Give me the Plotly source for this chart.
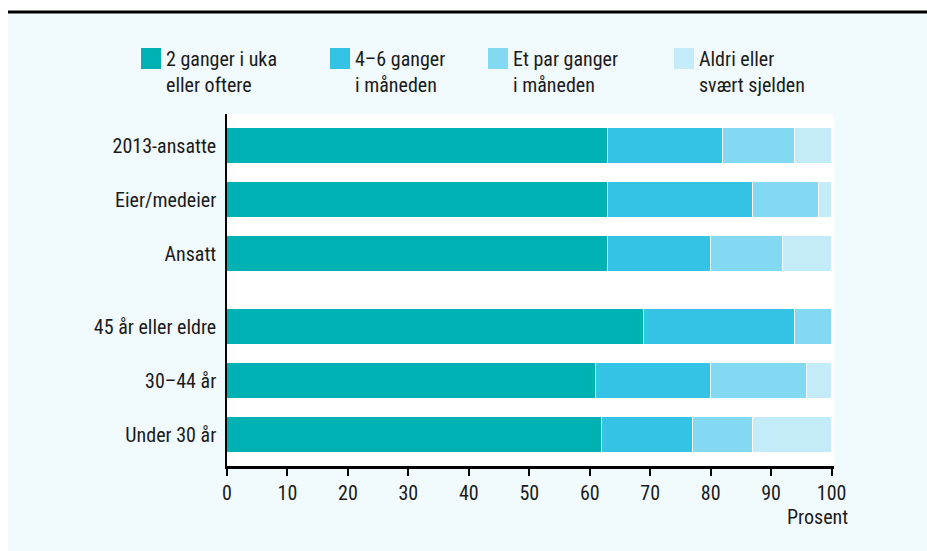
import plotly.graph_objects as go

# Survey groups, top to bottom, and share (%) in each frequency class
categories = ["2013-ansatte", "Eier/medeier", "Ansatt",
              "45 år eller eldre", "30–44 år", "Under 30 år"]
group_of = [0, 0, 0, 1, 1, 1]

series_names = ["2 ganger i uka<br>eller oftere",
                "4–6 ganger<br>i måneden",
                "Et par ganger<br>i måneden",
                "Aldri eller<br>svært sjelden"]
ukentlig = [63, 63, 63, 69, 61, 62]
fire_seks = [19, 24, 17, 25, 19, 15]
et_par = [12, 11, 12, 6, 16, 10]
aldri = [6, 2, 8, 0, 4, 13]

x_ticks = [0, 10, 20, 30, 40, 50, 60, 70, 80, 90, 100]
x_title = "Prosent"

colors = ["#00b1b4", "#35c3e5", "#82d9f1", "#c3ebf8"]
panel_bg = "#f1fafd"
ink = "#1a1a1a"
FONT = "Liberation Sans Narrow, Roboto Condensed, Arial Narrow, sans-serif"

# vertical positions: rows 1 unit apart, extra gap between the two groups
GROUP_GAP = 0.35
n = len(categories)
ypos = []
for i in range(n):
    rank = n - 1 - i
    ypos.append(rank + (GROUP_GAP if group_of[i] == 0 else 0))

fig = go.Figure()
for name, vals, col in zip(series_names, [ukentlig, fire_seks, et_par, aldri], colors):
    fig.add_trace(go.Bar(
        y=ypos, x=vals, orientation="h", name=name, width=0.667,
        marker=dict(color=col, line=dict(color="white", width=1)),
        showlegend=False,
    ))

# figure geometry in pixels
W, H = 927, 551
L, R, T, B = 227, 93, 114, 85
pw, ph = W - L - R, H - T - B


def px(x):
    return (x - L) / pw


def py(y):
    return (H - B - y) / ph


shapes = [
    # white margin strips around the tinted panel
    dict(type="rect", xref="paper", yref="paper", x0=px(0), x1=px(8), y0=py(H), y1=py(0),
         fillcolor="white", line_width=0, layer="below"),
    dict(type="rect", xref="paper", yref="paper", x0=px(0), x1=px(W), y0=py(12), y1=py(0),
         fillcolor="white", line_width=0, layer="below"),
    # heavy rule across the top
    dict(type="line", xref="paper", yref="paper", x0=px(8), x1=px(W), y0=py(12), y1=py(12),
         line=dict(color="black", width=3)),
]

annotations = []
legend_x = [141, 330, 488, 674]
for name, col, lx in zip(series_names, colors, legend_x):
    shapes.append(dict(type="rect", xref="paper", yref="paper",
                       x0=px(lx), x1=px(lx + 20), y0=py(69), y1=py(48),
                       fillcolor=col, line_width=0))
    annotations.append(dict(xref="paper", yref="paper", x=px(lx + 23), y=py(45),
                            xanchor="left", yanchor="top", align="left",
                            text=name, showarrow=False,
                            font=dict(family=FONT, size=20, color=ink)))

annotations.append(dict(xref="paper", yref="paper", x=px(850), y=py(503),
                        xanchor="right", yanchor="top", text=x_title, showarrow=False,
                        font=dict(family=FONT, size=20, color=ink)))

fig.update_layout(
    width=W, height=H,
    margin=dict(l=L, r=R, t=T, b=B, pad=0),
    barmode="stack", bargap=0,
    paper_bgcolor=panel_bg, plot_bgcolor="white",
    font=dict(family=FONT, size=20, color=ink),
    shapes=shapes, annotations=annotations,
    xaxis=dict(range=[0, 100.4], tickvals=x_ticks, ticks="outside", ticklen=7,
               tickwidth=1.5, tickcolor="black", showline=True, linecolor="black",
               linewidth=2.5, showgrid=False, zeroline=False, fixedrange=True),
    yaxis=dict(range=[-0.58, n - 1 + GROUP_GAP + 0.59], tickvals=ypos, ticktext=categories,
               ticks="", showline=True, linecolor="black", linewidth=1.5,
               showgrid=False, zeroline=False, ticklabelstandoff=5, fixedrange=True),
)

fig.write_html("out.html")
